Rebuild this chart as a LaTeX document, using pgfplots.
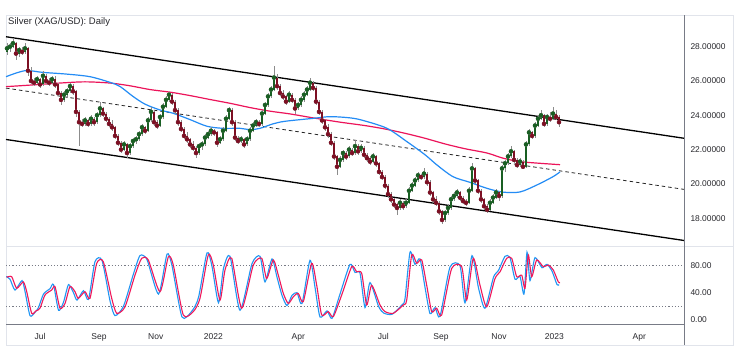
\documentclass[border=0pt]{standalone}
\usepackage{fontspec}
\setmainfont{Liberation Sans}
\usepackage{pgfplots}
\usepackage{pgfplotstable}
\pgfplotsset{compat=1.18}
\definecolor{maRed}{RGB}{236,20,90}
\definecolor{maBlue}{RGB}{36,140,245}
\definecolor{stBlue}{RGB}{33,150,243}
\definecolor{stRed}{RGB}{240,24,90}
\definecolor{upC}{RGB}{25,95,35}
\definecolor{dnC}{RGB}{125,15,35}
\definecolor{wickC}{RGB}{140,140,140}
\definecolor{txt}{RGB}{40,40,45}
\definecolor{frameC}{RGB}{225,228,235}
\definecolor{axC}{RGB}{120,123,134}

\pgfplotstableread{
x o h l c
7 27.7 28.2 27.5 27.9
10 27.9 28.2 27.7 28.0
13 28.0 28.5 27.9 28.2
16 28.2 28.3 27.2 27.6
19 27.6 28.0 27.4 27.8
22 27.8 28.0 27.5 27.7
25 27.7 28.2 27.6 27.9
28 27.9 28.0 26.3 26.6
31 26.6 26.8 25.8 26.0
34 26.0 26.2 25.7 25.9
37 25.9 26.3 25.8 26.1
40 26.1 26.2 25.6 25.8
43 25.8 26.6 25.7 26.3
46 26.3 26.4 25.8 26.0
49 26.0 26.2 25.7 25.9
52 25.9 26.3 25.8 26.1
55 26.1 26.3 25.6 25.8
58 25.8 25.9 25.1 25.3
61 25.3 25.4 24.6 24.9
64 24.9 25.4 24.8 25.2
67 25.2 25.6 25.0 25.4
70 25.4 25.9 25.3 25.7
73 25.7 25.8 25.2 25.4
76 25.4 25.5 23.9 24.2
79 24.2 24.3 22.2 23.6
82 23.6 23.8 23.3 23.5
85 23.5 23.9 23.4 23.7
88 23.7 23.8 23.3 23.5
91 23.5 24.0 23.4 23.8
94 23.8 23.9 23.4 23.6
97 23.6 24.2 23.5 24.0
100 24.0 24.8 23.9 24.4
103 24.4 24.5 23.9 24.1
106 24.1 24.2 23.6 23.8
109 23.8 23.9 23.3 23.5
112 23.5 23.7 23.1 23.3
115 23.3 23.4 22.6 22.8
118 22.8 22.9 22.2 22.4
121 22.4 22.5 21.8 22.0
124 22.0 22.5 21.9 22.3
127 22.3 22.4 21.5 21.8
130 21.8 22.4 21.7 22.2
133 22.2 22.7 22.1 22.5
136 22.5 22.8 22.3 22.6
139 22.6 23.1 22.5 22.9
142 22.9 23.5 22.8 23.3
145 23.3 23.4 22.9 23.1
148 23.1 23.9 23.0 23.7
151 23.7 24.5 23.6 24.2
154 24.2 24.3 23.4 23.6
157 23.6 23.7 23.2 23.4
160 23.4 24.1 23.3 23.9
163 23.9 24.7 23.8 24.5
166 24.5 25.1 24.4 24.9
169 24.9 25.35 24.8 25.2
172 25.2 25.3 24.6 24.8
175 24.8 24.9 24.1 24.3
178 24.3 24.4 23.4 23.6
181 23.6 23.7 23.0 23.2
184 23.2 23.3 22.6 22.8
187 22.8 23.0 22.4 22.6
190 22.6 22.7 22.1 22.3
193 22.3 22.5 21.9 22.1
196 22.1 22.2 21.5 21.8
199 21.8 22.4 21.7 22.2
202 22.2 22.5 22.0 22.3
205 22.3 22.9 22.2 22.7
208 22.7 23.1 22.6 22.9
211 22.9 23.3 22.8 23.1
214 23.1 23.2 22.8 23.0
217 23.0 23.1 22.15 22.4
220 22.4 22.8 22.3 22.6
223 22.6 23.3 22.5 23.1
226 23.1 24.0 23.0 23.8
229 23.8 24.5 23.7 24.3
232 24.3 24.4 23.4 23.6
235 23.6 23.7 22.5 22.7
238 22.7 22.8 22.3 22.5
241 22.5 22.8 22.4 22.6
244 22.6 22.7 22.1 22.3
247 22.3 22.8 22.2 22.6
250 22.6 23.3 22.5 23.1
253 23.1 23.6 23.0 23.4
256 23.4 23.8 23.3 23.6
259 23.6 23.7 23.3 23.5
262 23.5 24.3 23.4 24.1
265 24.1 24.8 24.0 24.6
268 24.6 25.3 24.5 25.1
271 25.1 25.7 25.0 25.5
274 25.5 26.85 25.4 26.2
277 26.2 26.4 25.5 25.7
280 25.7 25.8 25.1 25.3
283 25.3 25.5 24.9 25.1
286 25.1 25.2 24.6 24.8
289 24.8 25.4 24.7 25.2
292 25.2 25.3 24.7 24.9
295 24.9 25.0 24.1 24.4
298 24.4 24.8 24.3 24.6
301 24.6 25.1 24.5 24.9
304 24.9 25.4 24.8 25.2
307 25.2 25.7 25.1 25.5
310 25.5 26.2 25.4 25.9
313 25.9 26.0 25.4 25.6
316 25.6 25.7 24.6 24.8
319 24.8 24.9 24.0 24.2
322 24.2 24.3 23.5 23.7
325 23.7 23.8 23.1 23.3
328 23.3 23.5 22.7 22.9
331 22.9 23.0 22.2 22.4
334 22.4 22.5 21.4 21.6
337 21.6 21.7 20.5 21.0
340 21.0 21.6 20.9 21.4
343 21.4 22.0 21.3 21.8
346 21.8 21.9 21.4 21.6
349 21.6 22.2 21.5 22.0
352 22.0 22.1 21.6 21.8
355 21.8 22.55 21.7 22.2
358 22.2 22.3 21.7 21.9
361 21.9 22.3 21.8 22.1
364 22.1 22.2 21.5 21.7
367 21.7 21.8 21.3 21.5
370 21.5 21.6 21.1 21.3
373 21.3 21.8 21.2 21.6
376 21.6 21.7 21.0 21.2
379 21.2 21.3 20.5 20.7
382 20.7 20.8 20.2 20.4
385 20.4 20.5 19.7 19.9
388 19.9 20.0 19.2 19.4
391 19.4 19.5 18.9 19.1
394 19.1 19.2 18.6 18.8
397 18.8 18.9 18.2 18.6
400 18.6 19.1 18.5 18.9
403 18.9 19.0 18.5 18.7
406 18.7 19.1 18.6 18.9
409 18.9 19.8 18.8 19.6
412 19.6 20.1 19.5 19.9
415 19.9 20.4 19.8 20.2
418 20.2 20.7 20.1 20.5
421 20.5 20.6 20.2 20.4
424 20.4 20.9 20.3 20.6
427 20.6 20.7 19.9 20.1
430 20.1 20.2 19.3 19.5
433 19.5 19.6 18.9 19.1
436 19.1 19.3 18.7 18.9
439 18.9 19.0 18.2 18.4
442 18.4 18.5 17.65 17.9
445 17.9 18.5 17.8 18.3
448 18.3 18.8 18.2 18.6
451 18.6 19.3 18.5 19.1
454 19.1 19.5 19.0 19.3
457 19.3 19.7 19.2 19.5
460 19.5 19.6 19.0 19.2
463 19.2 19.3 18.8 19.0
466 19.0 19.1 18.7 18.9
469 18.9 19.8 18.8 19.6
472 19.6 21.2 19.5 20.9
475 20.9 21.0 20.0 20.2
478 20.2 20.3 19.4 19.6
481 19.6 19.7 18.9 19.1
484 19.1 19.2 18.5 18.7
487 18.7 18.8 18.3 18.5
490 18.5 19.1 18.4 18.9
493 18.9 19.4 18.8 19.2
496 19.2 19.7 19.1 19.5
499 19.5 19.6 19.0 19.3
502 19.3 21.1 19.2 20.9
505 20.9 21.4 20.7 21.2
508 21.2 21.8 21.1 21.6
511 21.6 22.2 21.5 21.9
514 21.9 22.0 21.2 21.4
517 21.4 21.5 20.9 21.1
520 21.1 21.5 21.0 21.3
523 21.3 21.4 20.9 21.0
526 21.0 22.5 20.9 22.3
529 22.3 23.2 22.2 23.0
532 23.0 23.1 22.6 22.8
535 22.8 23.6 22.7 23.4
538 23.4 24.0 23.3 23.8
541 23.8 24.3 23.7 24.0
544 24.0 24.1 23.3 23.5
547 23.5 24.1 23.4 23.9
550 23.9 24.2 23.6 23.8
553 23.8 24.5 23.7 24.1
556 24.1 24.3 23.7 23.9
559 23.9 24.0 23.3 23.6
}\candles

\begin{document}
\begin{tikzpicture}[x=1pt,y=1pt]
\fill[white] (0,0) rectangle (744,353);
\draw[frameC, line width=0.8pt] (6,8) rectangle (733,338);
\draw[frameC, line width=0.8pt] (6,107) -- (733,107);

\begin{axis}[
  at={(6pt,338pt)}, anchor=north west, scale only axis,
  width=678pt, height=230pt,
  xmin=6, xmax=684, ymin=16.437, ymax=29.848,
  axis line style={draw=none}, tick style={draw=none},
  xtick=\empty,
  ytick={18,20,22,24,26,28},
  yticklabels={18.00000,20.00000,22.00000,24.00000,26.00000,28.00000},
  yticklabel pos=right,
  yticklabel style={anchor=west, xshift=3pt, text=txt, font=\fontsize{8.4}{9}\selectfont},
  clip=true,
]
% channel
\addplot[black, line width=1.3pt] coordinates {(6,28.58) (684,22.66)};
\addplot[black, line width=1.3pt] coordinates {(6,22.59) (684,16.70)};
\addplot[black!85, line width=0.8pt, dash pattern=on 3.5pt off 3pt] coordinates {(6,25.585) (684,19.68)};
% moving averages
\addplot[maRed, line width=1.2pt, smooth] coordinates {(6,25.67) (30,25.76) (60,25.88) (85,25.95) (110,25.88) (130,25.72) (150,25.5) (170,25.35) (190,25.15) (210,24.92) (230,24.7) (250,24.45) (270,24.24) (290,24.08) (313,23.85) (340,23.6) (365,23.4) (385,23.2) (405,22.95) (425,22.66) (445,22.33) (465,22.05) (487,21.8) (503,21.5) (520,21.3) (540,21.2) (560,21.12)};
\addplot[maBlue, line width=1.2pt, smooth] coordinates {(6,26.25) (25,26.6) (43,26.5) (67,26.4) (90,26.25) (110,25.92) (120,25.68) (133,25.1) (145,24.65) (160,24.31) (173,24.12) (190,23.75) (207,23.36) (223,23.24) (240,23.24) (250,23.16) (260,23.24) (273,23.5) (285,23.65) (313,23.82) (330,23.92) (350,23.85) (363,23.7) (387,23.24) (407,22.46) (425,21.7) (437,21.1) (453,20.42) (470,20.09) (487,19.74) (503,19.52) (520,19.53) (537,19.94) (553,20.42) (560,20.7)};
% candle wicks
\addplot[only marks, mark=none, color=wickC,
  error bars/.cd, y dir=both, y explicit, error mark=none,
  error bar style={line width=0.6pt}]
  table[x=x, y=c, y error plus expr=\thisrow{h}-\thisrow{c}, y error minus expr=\thisrow{c}-\thisrow{l}] {\candles};
% up bodies
\addplot[only marks, mark=none, color=upC,
  x filter/.expression={\thisrow{c}>=\thisrow{o} ? x : nan},
  error bars/.cd, y dir=both, y explicit, error mark=none,
  error bar style={line width=1.2pt}]
  table[x=x, y=c, y error plus expr=0, y error minus expr=\thisrow{c}-\thisrow{o}] {\candles};
% down bodies
\addplot[only marks, mark=none, color=dnC,
  x filter/.expression={\thisrow{c}<\thisrow{o} ? x : nan},
  error bars/.cd, y dir=both, y explicit, error mark=none,
  error bar style={line width=1.2pt}]
  table[x=x, y=c, y error plus expr=\thisrow{o}-\thisrow{c}, y error minus expr=0] {\candles};
\end{axis}

\begin{axis}[
  at={(6pt,107pt)}, anchor=north west, scale only axis,
  width=678pt, height=78pt,
  xmin=6, xmax=684, ymin=-6.37, ymax=109.2,
  axis line style={draw=none}, tick style={draw=none},
  xtick={40,99,155.7,213.3,298.3,383.3,441,499,554.3,639.3},
  xticklabels={Jul,Sep,Nov,2022,Apr,Jul,Sep,Nov,2023,Apr},
  xticklabel style={text=txt, font=\fontsize{8.5}{9}\selectfont, yshift=-6pt},
  ytick={0,40,80},
  yticklabels={0.00,40.00,80.00},
  yticklabel pos=right,
  yticklabel style={anchor=west, xshift=3pt, text=txt, font=\fontsize{8.4}{9}\selectfont},
]
\addplot[axC, line width=0.7pt, dash pattern=on 1.2pt off 2pt] coordinates {(6,80) (684,80)};
\addplot[axC, line width=0.7pt, dash pattern=on 1.2pt off 2pt] coordinates {(6,20) (684,20)};
\addplot[stBlue, line width=1.1pt, smooth, tension=0.4] coordinates {(6,64) (10,60) (15,44) (22,58) (25,42) (30,6) (35,11) (38.5,18) (43.5,38) (50,46) (53.5,52) (58.5,14) (63.5,26) (68.5,52) (73.5,40) (77,29) (83.5,43) (88.5,30) (95,86) (102,88) (110,28) (115,6) (123.5,20) (133.5,68) (140,95) (147,89) (158.5,38) (167,97) (172,80) (182,4) (192,13) (198.5,33) (207,99) (212,79) (218.5,25) (223.5,76) (230,94) (240,14) (252,83) (260,94) (265,56) (272,90) (277,63) (282,36) (287,21) (292,36) (297,40) (302,24) (310,88) (315,48) (320,4) (327,13) (332,2) (340,38) (350,82) (355,70) (360,69) (365,18) (370,55) (378.5,20) (383.5,10) (392,8) (402,22) (405,31) (410,100) (415,82) (420,90) (425,48) (430,9) (435,18) (440,5) (450,78) (460,80) (465,25) (472,95) (478.5,47) (485,17) (493.5,63) (498.5,73) (505,94) (510,92) (515,60) (520,64) (524,38) (527,100) (530,58) (535,92) (542,77) (547,82) (552,72) (557,52) (559,52)};
\addplot[stRed, line width=1.1pt, smooth, tension=0.4] coordinates {(6.7,62.8) (11.7,63.7) (16.7,46.5) (23.3,56) (26.7,41.5) (31.7,9.5) (36,13) (40,17) (45,36.6) (51.7,44) (55,49) (60,17) (65,24) (70,49) (75,41.5) (78.3,31.7) (85,41.5) (90,31.7) (96.7,83.5) (103.3,86) (111.7,31.7) (116.7,9.5) (125,19) (135,66) (141.7,91) (148.3,88.5) (160,41.5) (168.3,93) (173.3,81) (183.3,7) (193.3,12) (200,31.7) (208.3,96) (213.3,81) (220,29) (225,73.6) (231.7,91) (241.7,17) (253.3,81) (261.7,91) (266.7,61) (273.3,88.5) (278.3,66) (283.3,39) (288.3,24) (293.3,34) (298.3,39) (303.3,26.7) (311.7,83.5) (316.7,51) (321.7,7) (328.3,12) (333.3,4.5) (341.7,36.6) (351.7,78.5) (356.7,71) (361.7,68.7) (366.7,21.8) (371.7,51) (380,21.8) (385,12) (393.3,9.5) (403.3,21.8) (406.7,29) (411.7,96) (416.7,83.5) (421.7,88.5) (426.7,51) (431.7,12) (436.7,17) (441.7,7) (451.7,76) (461.7,78.5) (466.7,29) (473.3,91) (480,51) (486.7,19) (495,61) (500,71) (506.7,91) (511.7,91) (516.7,63.7) (521.7,66) (525,46.5) (528.3,96) (531.7,63.7) (536.7,88.5) (543.3,78.5) (548.3,81) (553.3,73.6) (558.3,56) (560,55)};
\end{axis}
% axis lines and title
\draw[axC, line width=0.8pt] (684,8) -- (684,338);
\draw[axC, line width=0.8pt] (6,29) -- (684,29);
\node[anchor=west, inner sep=0pt, text=txt, font=\fontsize{9.5}{11}\selectfont] at (8,331) {Silver (XAG/USD): Daily};
\end{tikzpicture}
\end{document}
